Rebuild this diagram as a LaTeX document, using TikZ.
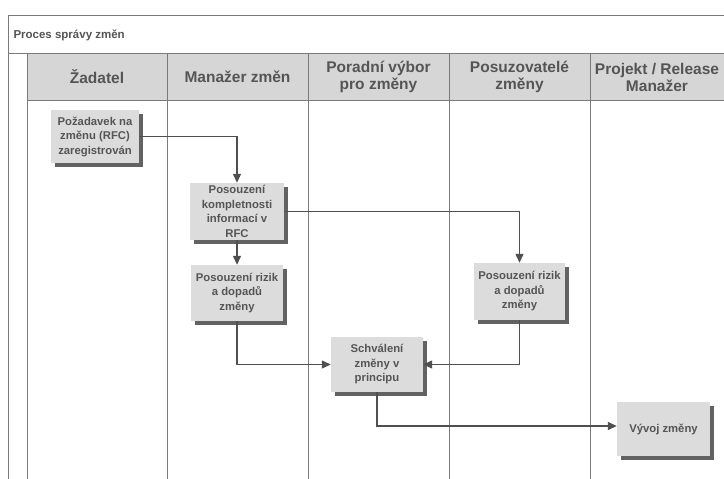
\documentclass[tikz,border=0pt]{standalone}
\usepackage{fontspec}
\setmainfont{Liberation Sans}
\usetikzlibrary{arrows.meta}
\definecolor{linegray}{HTML}{7A7A7A}
\definecolor{hdrfill}{HTML}{D6D6D6}
\definecolor{boxfill}{HTML}{DCDCDC}
\definecolor{shadowgray}{HTML}{626262}
\definecolor{txtgray}{HTML}{555555}
\definecolor{arrowgray}{HTML}{505050}
\tikzset{
  frame/.style={draw=linegray, line width=0.9pt},
  hdrtext/.style={font=\bfseries\fontsize{15.5}{17}\selectfont, text=txtgray, align=center},
  procbox/.style={fill=boxfill, draw=none, minimum width=#1, inner sep=0pt, align=center,
     font=\bfseries\fontsize{11.3}{14.5}\selectfont, text=txtgray,
     preaction={fill=shadowgray, transform canvas={shift={(4pt,-4pt)}}}},
  flow/.style={draw=arrowgray, line width=1.3pt, -{Triangle[length=9pt,width=8pt]}},
}
\begin{document}
\begin{tikzpicture}[x=1pt,y=-1pt]
\useasboundingbox (0,0) rectangle (724,479);
\fill[white] (0,0) rectangle (724,479);
% header band
\fill[hdrfill] (27,53) rectangle (724,100);
% frame lines
\draw[frame] (724,15) -- (8,15) -- (8,479);
\draw[frame] (8,53) -- (724,53);
\draw[frame] (27,53) -- (27,479);
\draw[frame] (27,100) -- (724,100);
\foreach \x in {167,308,449,590} \draw[frame] (\x,53) -- (\x,479);
\node[anchor=west, font=\bfseries\fontsize{11.5}{13}\selectfont, text=txtgray] (title) at (10,35) {Proces správy změn};
% headers
\node[hdrtext] (h1) at (97,77) {Žadatel};
\node[hdrtext] (h2) at (237.5,77) {Manažer změn};
\node[hdrtext] (h3) at (378.5,77) {Poradní výbor\\pro změny};
\node[hdrtext] (h4) at (519.5,77) {Posuzovatelé\\změny};
\node[hdrtext] (h5) at (657,77) {Projekt / Release\\Manažer};
% boxes
\node[procbox=88pt, minimum height=53pt] (b1) at (95,136.5) {Požadavek na\\změnu (RFC)\\zaregistrován};
\node[procbox=94pt, minimum height=57pt] (b2) at (237,211.5) {Posouzení\\kompletnosti\\informací v\\RFC};
\node[procbox=92pt, minimum height=56pt] (b3) at (237,293) {Posouzení rizik\\a dopadů\\změny};
\node[procbox=91pt, minimum height=57pt] (b4) at (519.5,291.5) {Posouzení rizik\\a dopadů\\změny};
\node[procbox=92pt, minimum height=55pt] (b5) at (377,364.5) {Schválení\\změny v\\principu};
\node[procbox=93pt, minimum height=54pt] (b6) at (663.5,429) {Vývoj změny};
% connectors
\draw[flow] (b1.east) -| (b2.north);
\draw[flow] (b2.east) -| (b4.north);
\draw[flow] (b2.south) -- (b3.north);
\draw[flow] (b3.south) |- (b5.west);
\draw[flow] (b4.south) |- (b5.east);
\draw[flow] (b5.south) |- ([yshift=3pt]b6.west);
\end{tikzpicture}
\end{document}
